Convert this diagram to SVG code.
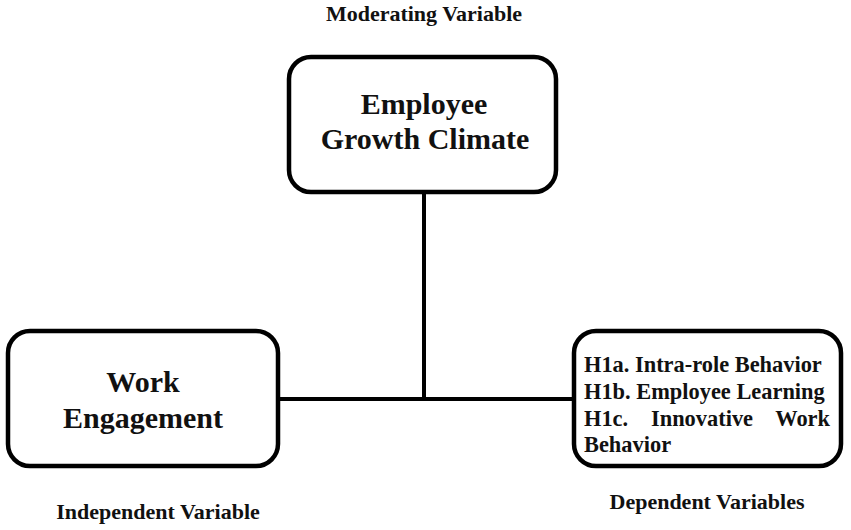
<svg xmlns="http://www.w3.org/2000/svg" width="851" height="530" viewBox="0 0 851 530">
<style>
.box{fill:#fff;stroke:#000;stroke-width:4.5}
.t{font-family:"Liberation Serif","Times New Roman",serif;font-weight:bold;fill:#111}
.big{font-size:30px;text-anchor:middle}
.lab{font-size:22px;text-anchor:middle}
.dv{font-size:22.4px}
.conn{stroke:#000;stroke-width:4;fill:none}
</style>
<rect width="851" height="530" fill="#fff"/>
<g id="connectors">
<line class="conn" x1="424" y1="193" x2="424" y2="399"/>
<line class="conn" x1="279" y1="399" x2="573" y2="399"/>
</g>
<g id="moderator">
<rect class="box" x="289" y="57" width="267" height="135" rx="22"/>
<text class="t big" x="424" y="114">Employee</text>
<text class="t big" x="425" y="149">Growth Climate</text>
</g>
<g id="independent">
<rect class="box" x="8" y="331" width="270" height="135" rx="22"/>
<text class="t big" x="143" y="392">Work</text>
<text class="t big" x="143" y="428">Engagement</text>
</g>
<g id="dependent">
<rect class="box" x="574" y="331" width="267" height="135" rx="22"/>
<text class="t dv" x="584" y="372">H1a. Intra-role Behavior</text>
<text class="t dv" x="584" y="399">H1b. Employee Learning</text>
<text class="t dv" y="426"><tspan x="584">H1c.</tspan> <tspan x="651">Innovative</tspan> <tspan x="830" text-anchor="end">Work</tspan></text>
<text class="t dv" x="584" y="452">Behavior</text>
</g>
<g id="labels">
<text class="t lab" x="424" y="21">Moderating Variable</text>
<text class="t lab" x="158" y="519">Independent Variable</text>
<text class="t lab" x="707" y="509">Dependent Variables</text>
</g>
</svg>
